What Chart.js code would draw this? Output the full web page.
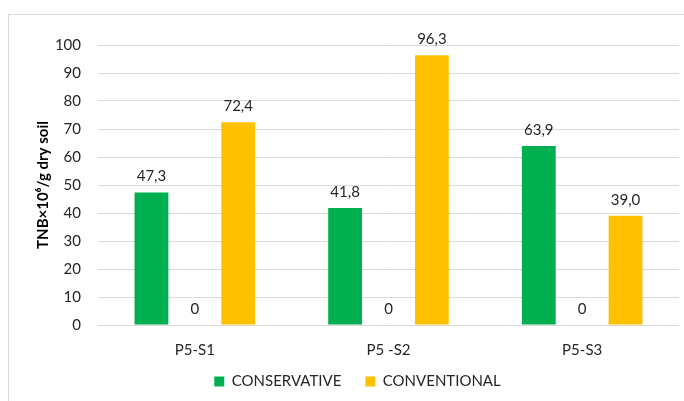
<!DOCTYPE html>
<html>
<head>
<meta charset="utf-8">
<script src="https://cdn.jsdelivr.net/npm/chart.js@4"></script>
<style>
  body { margin: 0; background: #fff; }
  #wrap { position: relative; width: 684px; height: 401px; overflow: hidden; }
  #frame { position: absolute; left: 8px; top: 14px; width: 700px; height: 420px; border: 1px solid #d9d9d9; }
  #chart { position: absolute; left: 0; top: 0; }
</style>
</head>
<body>
<div id="wrap">
  <div id="frame"></div>
  <canvas id="chart" width="684" height="401"></canvas>
</div>
<script>
const categories = ['P5-S1', 'P5 -S2', 'P5-S3'];
const conservative = [47.3, 41.8, 63.9];
const middleSeries = [0, 0, 0];
const conventional = [72.4, 96.3, 39.0];
const yTicks = [0, 10, 20, 30, 40, 50, 60, 70, 80, 90, 100];

const fontFam = 'Lato, "Liberation Sans", sans-serif';

// draws value labels above each bar (no datalabels plugin available)
const valueLabels = {
    id: 'valueLabels',
    afterDatasetsDraw(chart) {
        const ctx = chart.ctx;
        ctx.save();
        ctx.font = '15px ' + fontFam;
        ctx.fillStyle = '#262626';
        ctx.textAlign = 'center';
        ctx.textBaseline = 'middle';
        chart.data.datasets.forEach((ds, i) => {
            const meta = chart.getDatasetMeta(i);
            meta.data.forEach((bar, j) => {
                const v = ds.data[j];
                const txt = v === 0 ? '0' : v.toFixed(1).replace('.', ',');
                ctx.fillText(txt, bar.x, bar.y - 16);
            });
        });
        ctx.restore();
    }
};

// nudge the legend right and up, like the original
const legendShift = {
    id: 'legendShift',
    afterLayout(chart) {
        chart.legend.left += 36;
        chart.legend.top -= 14;
    }
};

const barData = {
    labels: categories,
    datasets: [{
        label: 'CONSERVATIVE',
        data: conservative,
        backgroundColor: '#00B050',
    }, {
        label: '',
        data: middleSeries,
        backgroundColor: 'rgba(0,0,0,0)',
    }, {
        label: 'CONVENTIONAL',
        data: conventional,
        backgroundColor: '#FFC000',
    }]
};

const chart = new Chart(document.getElementById('chart'), {
    type: 'bar',
    data: barData,
    plugins: [valueLabels, legendShift],
    options: {
        responsive: false,
        animation: false,
        layout: { padding: { left: 0, right: 5, top: 45, bottom: -12 } },
        datasets: { bar: { categoryPercentage: 0.672, barPercentage: 0.78 } },
        scales: {
            x: {
                grid: { display: false, drawTicks: false },
                border: { display: false },
                ticks: { color: '#262626', font: { size: 15, family: fontFam }, padding: 16 },
                afterFit: (scale) => { scale.height = 39; }
            },
            y: {
                min: 0,
                max: 100,
                afterBuildTicks: (scale) => { scale.ticks = yTicks.map(v => ({ value: v })); },
                grid: { color: '#d9d9d9', drawTicks: false },
                border: { display: false },
                ticks: { color: '#262626', font: { size: 15, family: fontFam }, padding: 17 },
                title: {
                    display: true,
                    text: 'TNB×10⁶/g dry soil',
                    color: '#000',
                    font: { size: 15, weight: 'bold', family: fontFam },
                    padding: { top: 34, bottom: 0 }
                },
                afterFit: (scale) => { scale.width = 98; }
            }
        },
        plugins: {
            legend: {
                position: 'bottom',
                labels: {
                    boxWidth: 10,
                    boxHeight: 10,
                    padding: 24,
                    color: '#262626',
                    font: { size: 15, family: fontFam },
                    filter: (item) => item.text !== ''
                }
            },
            tooltip: { enabled: false }
        }
    }
});
</script>
</body>
</html>
